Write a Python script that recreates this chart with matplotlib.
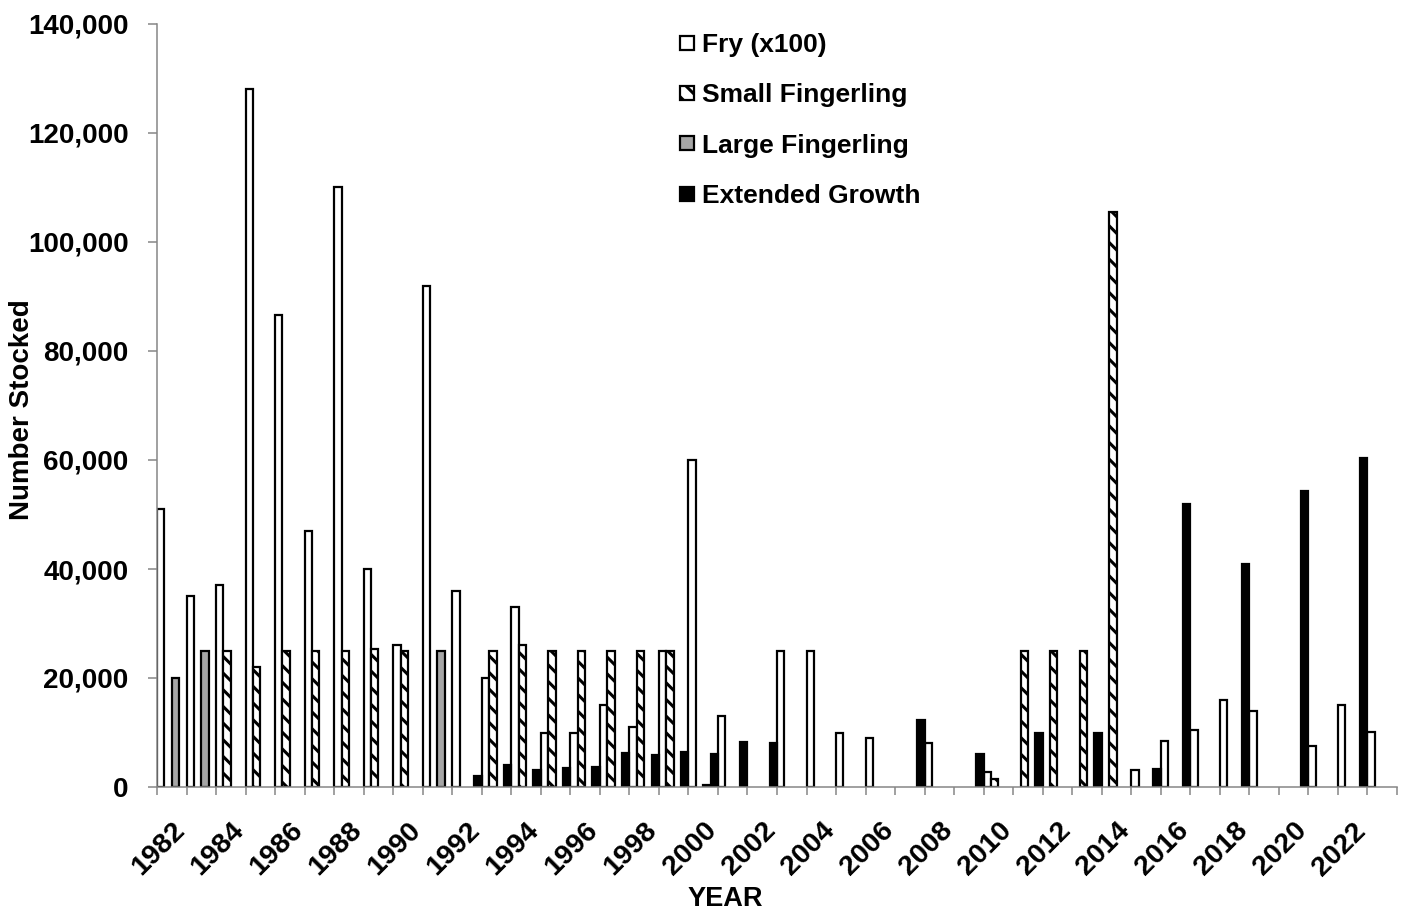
import numpy as np
import matplotlib.pyplot as plt
from matplotlib.ticker import FuncFormatter

# -----------------------------
# Data
# -----------------------------
years = list(range(1982, 2024))

fry_x100 = [51000, 35000, 37000, 128000, 86600, 47000, 110000, 40000, 26000, 92000,
            36000, 20000, 33000, 10000, 10000, 15000, 11000, 25000, 60000, 13000,
            0, 25000, 25000, 10000, 9000, 0, 8000, 0, 2800, 0,
            0, 0, 0, 3100, 8500, 10500, 16000, 14000, 0, 7600,
            15000, 10100]

small_fingerling = [0, 0, 25000, 22000, 25000, 25000, 25000, 25300, 25000, 0,
                    0, 25000, 26000, 25000, 25000, 25000, 25000, 25000, 0, 0,
                    0, 0, 0, 0, 0, 0, 0, 0, 1500, 25000,
                    25000, 25000, 105500, 0, 0, 0, 0, 0, 0, 0,
                    0, 0]

large_fingerling = [20000, 25000, 0, 0, 0, 0, 0, 0, 0, 25000,
                    0, 0, 0, 0, 0, 0, 0, 0, 300, 0,
                    0, 0, 0, 0, 0, 0, 0, 0, 0, 0,
                    0, 0, 0, 0, 0, 0, 0, 0, 0, 0,
                    0, 0]

extended_growth = [0, 0, 0, 0, 0, 0, 0, 0, 0, 0,
                   2000, 4000, 3200, 3400, 3600, 6300, 5900, 6500, 6000, 8300,
                   8000, 0, 0, 0, 0, 12300, 0, 6000, 0, 10000,
                   0, 10000, 0, 3300, 52000, 0, 40900, 0, 54400, 0,
                   60300, 0]

series = [
    (fry_x100, "Fry (x100)", "white", None),
    (small_fingerling, "Small Fingerling", "white", "\\\\"),
    (large_fingerling, "Large Fingerling", "#a6a6a6", None),
    (extended_growth, "Extended Growth", "black", None),
]

# -----------------------------
# Plot
# -----------------------------
plt.rcParams["font.family"] = ["Liberation Sans", "DejaVu Sans"]
plt.rcParams["font.weight"] = "bold"
plt.rcParams["hatch.linewidth"] = 2.2
plt.rcParams["hatch.color"] = "black"

axis_grey = "#868686"

fig = plt.figure(figsize=(14.05, 9.13), dpi=100)
ax = fig.add_axes([157 / 1405, 1 - 787 / 913, 1240 / 1405, 763 / 913])

idx = np.arange(len(years))
bar_w = 0.25
for k, (vals, label, color, hatch) in enumerate(series):
    v = np.array(vals, dtype=float)
    m = v > 0
    ax.bar(idx[m] + bar_w / 2 + bar_w * k, v[m], width=bar_w, color=color,
           edgecolor="black", linewidth=1.6, hatch=hatch, label=label)

ax.set_xlim(0, len(years))
ax.set_ylim(0, 140000)
ax.set_yticks(range(0, 140001, 20000))
ax.yaxis.set_major_formatter(FuncFormatter(lambda y, p: f"{y:,.0f}"))

# category boundaries as ticks, labels every other year in the middle
ax.set_xticks(np.arange(len(years) + 1))
ax.set_xticklabels([])
ax.set_xticks(idx[::2] + 0.5, minor=True)
ax.set_xticklabels([str(y) for y in years[::2]], minor=True)
ax.tick_params(axis="x", which="major", direction="out", length=6, width=1.1, color=axis_grey)
ax.tick_params(axis="x", which="minor", length=0, pad=22, labelsize=20.5)
plt.setp(ax.get_xticklabels(minor=True), rotation=45, ha="right", va="top",
         rotation_mode="anchor")

ax.tick_params(axis="y", direction="out", length=6.5, width=1.1, color=axis_grey,
               pad=14, labelsize=20)

for s in ["top", "right"]:
    ax.spines[s].set_visible(False)
for s in ["left", "bottom"]:
    ax.spines[s].set_color(axis_grey)
    ax.spines[s].set_linewidth(1.1)

fig.text(22 / 1405, 1 - 410 / 913, "Number Stocked", rotation=90,
         ha="center", va="center", fontsize=20, fontweight="bold")
fig.text(725 / 1405, 1 - 899 / 913, "YEAR", ha="center", va="center",
         fontsize=19.5, fontweight="bold")

ax.legend(loc="upper left", bbox_to_anchor=(680 / 1405, 1 - 33 / 913),
          bbox_transform=fig.transFigure, frameon=False, fontsize=19,
          handlelength=0.52, handleheight=0.45, handletextpad=0.3,
          labelspacing=1.0, borderpad=0, borderaxespad=0)

fig.savefig("out.png", dpi=100)
